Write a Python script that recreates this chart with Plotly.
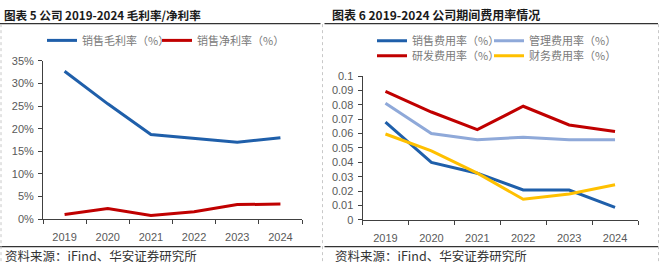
import plotly.graph_objects as go

W, H = 660, 268

years = ["2019", "2020", "2021", "2022", "2023", "2024"]

# Left chart (percent)
gross_margin = [32.7, 25.5, 18.7, 17.8, 17.0, 18.0]
net_margin = [1.0, 2.3, 0.8, 1.6, 3.2, 3.3]

# Right chart (ratio)
sales_exp = [0.068, 0.040, 0.0325, 0.0208, 0.0208, 0.0088]
admin_exp = [0.081, 0.060, 0.0557, 0.0575, 0.0557, 0.0557]
rd_exp = [0.0893, 0.075, 0.0628, 0.079, 0.066, 0.0615]
fin_exp = [0.0597, 0.048, 0.0325, 0.0144, 0.018, 0.0245]

left_title = "图表 5 公司 2019-2024 毛利率/净利率"
right_title = "图表 6 2019-2024 公司期间费用率情况"
source_text = "资料来源：iFind、华安证券研究所"

BLUE = "#1F5FAA"
RED = "#C00000"
LBLUE = "#8FA9D9"
YELLOW = "#FFC000"

CJK = "Noto Sans CJK SC"
LAT = "Liberation Sans, Arial, sans-serif"


def px(x):
    return x / W


def py(y):
    return (H - y) / H


fig = go.Figure()

fig.add_trace(go.Scatter(x=years, y=gross_margin, mode="lines", name="销售毛利率（%）",
                         line=dict(color=BLUE, width=3), xaxis="x", yaxis="y", legend="legend"))
fig.add_trace(go.Scatter(x=years, y=net_margin, mode="lines", name="销售净利率（%）",
                         line=dict(color=RED, width=3), xaxis="x", yaxis="y", legend="legend2"))

fig.add_trace(go.Scatter(x=years, y=sales_exp, mode="lines", name="销售费用率（%）",
                         line=dict(color=BLUE, width=3), xaxis="x2", yaxis="y2", legend="legend3"))
fig.add_trace(go.Scatter(x=years, y=admin_exp, mode="lines", name="管理费用率（%）",
                         line=dict(color=LBLUE, width=3), xaxis="x2", yaxis="y2", legend="legend4"))
fig.add_trace(go.Scatter(x=years, y=rd_exp, mode="lines", name="研发费用率（%）",
                         line=dict(color=RED, width=3), xaxis="x2", yaxis="y2", legend="legend5"))
fig.add_trace(go.Scatter(x=years, y=fin_exp, mode="lines", name="财务费用率（%）",
                         line=dict(color=YELLOW, width=3), xaxis="x2", yaxis="y2", legend="legend6"))

axis_common = dict(showgrid=False, zeroline=False, showline=True, linecolor="#404040", linewidth=1,
                   ticks="outside", ticklen=4, tickcolor="#404040", tickwidth=1,
                   tickfont=dict(family=LAT, size=11, color="#595959"))

xcommon = dict(axis_common, type="category", tickson="boundaries", range=[-0.5, 5.5],
               ticklabelstandoff=8)

leg_font = dict(family=CJK, size=11, color="#7a7a7a")


def leg(x, y):
    return dict(x=px(x), y=py(y), xanchor="left", yanchor="middle", orientation="h",
                bgcolor="rgba(0,0,0,0)", borderwidth=0, font=leg_font, itemwidth=30,
                tracegroupgap=0)


fig.update_layout(
    width=W, height=H,
    margin=dict(l=0, r=0, t=0, b=0),
    paper_bgcolor="white", plot_bgcolor="white",
    showlegend=True,
    xaxis=dict(xcommon, domain=[px(43), px(302)], anchor="y"),
    yaxis=dict(axis_common, domain=[py(223), py(57.5)], range=[0, 35], dtick=5, ticksuffix="%",
               anchor="x", ticklabelstandoff=2),
    xaxis2=dict(xcommon, domain=[px(362.5), px(638)], anchor="y2"),
    yaxis2=dict(axis_common, domain=[py(224), py(73.3)], range=[0, 0.1], dtick=0.01,
                anchor="x2", ticklabelstandoff=2),
    legend=leg(42, 36),
    legend2=leg(157, 36),
    legend3=leg(372, 36.5),
    legend4=leg(489, 36.5),
    legend5=leg(372, 52),
    legend6=leg(489, 52),
)

# Titles
fig.add_annotation(text=left_title, x=px(2), y=py(9), xref="paper", yref="paper",
                   xanchor="left", yanchor="middle", showarrow=False,
                   font=dict(family=CJK, size=11.6, color="#1a1a1a", weight="bold"))
fig.add_annotation(text=right_title, x=px(330), y=py(9), xref="paper", yref="paper",
                   xanchor="left", yanchor="middle", showarrow=False,
                   font=dict(family=CJK, size=12, color="#1a1a1a", weight="bold"))

# Sources
for x0 in (3, 333):
    fig.add_annotation(text=source_text, x=px(x0), y=py(261), xref="paper", yref="paper",
                       xanchor="left", yanchor="middle", showarrow=False,
                       font=dict(family=CJK, size=12.5, color="#333333"))

# Separator lines
for (a, b) in ((0, 320.5), (324.5, 658)):
    for yy in (18.5, 252):
        fig.add_shape(type="line", xref="paper", yref="paper", x0=px(a), x1=px(b),
                      y0=py(yy), y1=py(yy), line=dict(color="#333333", width=1.2))

# Dotted vertical borders
for xx in (1, 322.5, 658.5):
    fig.add_shape(type="line", xref="paper", yref="paper", x0=px(xx), x1=px(xx),
                  y0=py(19), y1=py(268), line=dict(color="#c8c8c8", width=1, dash="dot"))

fig.write_html("out.html")
